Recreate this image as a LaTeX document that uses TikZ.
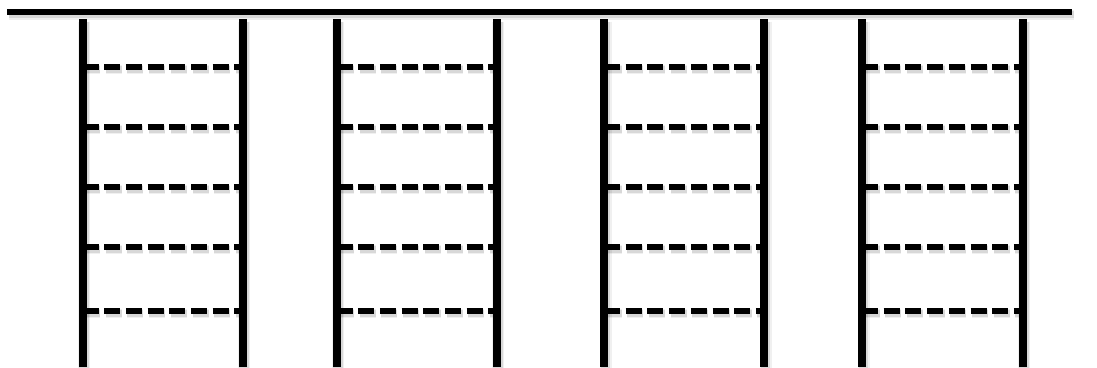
\documentclass[tikz,border=0pt]{standalone}
\tikzset{
  softshadow/.style={
    preaction={draw=black, opacity=0.06, line width=#1+4pt, transform canvas={shift={(1.5,2.5)}}},
    preaction={draw=black, opacity=0.10, line width=#1+1.5pt, transform canvas={shift={(1.5,2.5)}}}},
  dashshadow/.style={
    preaction={draw=black, opacity=0.06, line width=#1+4pt, dash pattern=on 16pt off 5.7pt,
      transform canvas={shift={(1.5,2.5)}}},
    preaction={draw=black, opacity=0.10, line width=#1+1.5pt, dash pattern=on 16pt off 5.7pt,
      transform canvas={shift={(1.5,2.5)}}}},
  beam/.style={line width=6pt, softshadow=6pt},
  post/.style={line width=8pt, softshadow=8pt},
  rung/.style={line width=5.5pt, dash pattern=on 16pt off 5.7pt, dashshadow=5.5pt}
}
\begin{document}
\begin{tikzpicture}[x=1pt, y=-1pt]
      \useasboundingbox (0,0) rectangle (1097,367);
      % top beam
      \draw[beam] (7,12) -- (1072,12);
      % four ladders
      \foreach \xl/\xr in {82.5/242.5, 336.5/496.5, 604/764, 862/1022.5} {
        \foreach \yr in {67,127,187,247,311}
          \draw[rung] (\xl,\yr) -- (\xr,\yr);
        \draw[post] (\xl,19) -- (\xl,367);
        \draw[post] (\xr,19) -- (\xr,367);
      }
\end{tikzpicture}
\end{document}
